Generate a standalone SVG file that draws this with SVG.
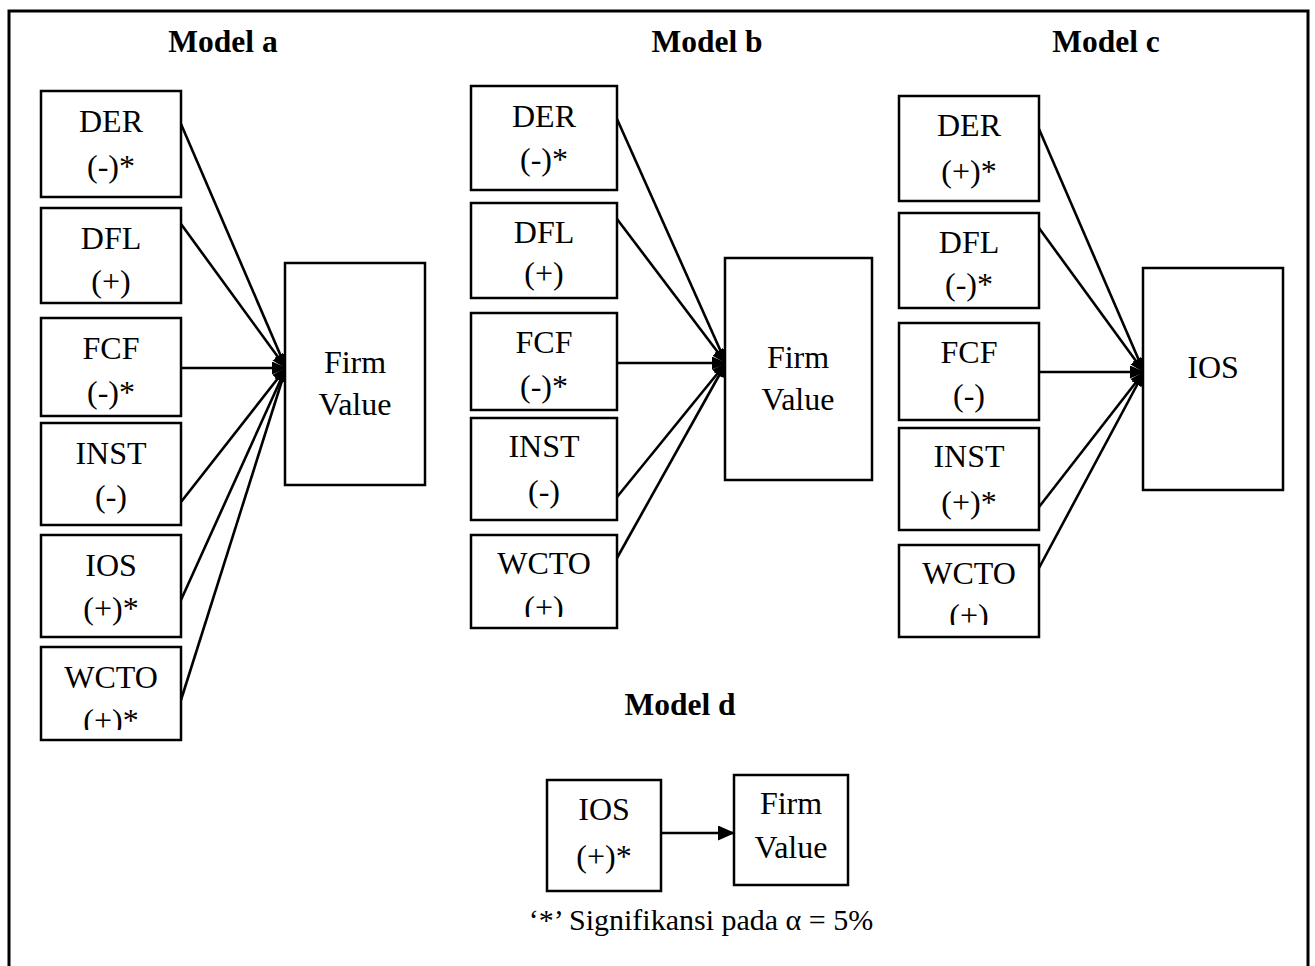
<svg xmlns="http://www.w3.org/2000/svg" width="1315" height="966" viewBox="0 0 1315 966">
  <style>
    .box { fill: #fff; stroke: #000; stroke-width: 2.5; }
    .t { font-family: "Liberation Serif", "Times New Roman", serif; font-size: 32px; text-anchor: middle; fill: #000; }
    .note { font-family: "Liberation Serif", "Times New Roman", serif; font-size: 30px; text-anchor: middle; fill: #000; }
    .h { font-family: "Liberation Serif", "Times New Roman", serif; font-size: 31.5px; font-weight: bold; text-anchor: middle; fill: #000; }
    .edge { stroke: #000; stroke-width: 2.6; fill: none; marker-end: url(#arr); }
    .edge-d { stroke: #000; stroke-width: 2.6; fill: none; marker-end: url(#arrBig); }
    .frame { stroke: #000; stroke-width: 3; fill: none; }
  </style>
  <defs>
    <marker id="arr" markerUnits="userSpaceOnUse" markerWidth="15" markerHeight="13" refX="14" refY="6.5" orient="auto">
      <path d="M0,0 L15,6.5 L0,13 Z" fill="#000"/>
    </marker>
    <marker id="arrBig" markerUnits="userSpaceOnUse" markerWidth="17" markerHeight="15" refX="16" refY="7.5" orient="auto">
      <path d="M0,0 L17,7.5 L0,15 Z" fill="#000"/>
    </marker>
    <clipPath id="clipA"><rect x="41" y="647" width="140" height="83"/></clipPath>
    <clipPath id="clipB"><rect x="471" y="535" width="146" height="82"/></clipPath>
    <clipPath id="clipC"><rect x="899" y="545" width="140" height="80"/></clipPath>
  </defs>

  <!-- outer frame, open at the bottom -->
  <path class="frame" d="M9,966 L9,11 L1308,11 L1308,966"/>

  <!-- titles -->
  <text class="h" x="223" y="52">Model a</text>
  <text class="h" x="707" y="52">Model b</text>
  <text class="h" x="1106" y="52">Model c</text>
  <text class="h" x="680" y="715">Model d</text>

  <!-- connectors -->
  <g id="connectors">
    <!-- model a -->
    <line class="edge" x1="181" y1="124" x2="286" y2="368"/>
    <line class="edge" x1="181" y1="224" x2="286" y2="368"/>
    <line class="edge" x1="181" y1="368" x2="286" y2="368"/>
    <line class="edge" x1="181" y1="502" x2="286" y2="368"/>
    <line class="edge" x1="181" y1="600" x2="286" y2="368"/>
    <line class="edge" x1="181" y1="700" x2="286" y2="368"/>
    <!-- model b -->
    <line class="edge" x1="617" y1="119" x2="726" y2="363"/>
    <line class="edge" x1="617" y1="219" x2="726" y2="363"/>
    <line class="edge" x1="617" y1="363" x2="726" y2="363"/>
    <line class="edge" x1="617" y1="497" x2="726" y2="363"/>
    <line class="edge" x1="617" y1="558" x2="726" y2="363"/>
    <!-- model c -->
    <line class="edge" x1="1039" y1="129" x2="1144" y2="372"/>
    <line class="edge" x1="1039" y1="228" x2="1144" y2="372"/>
    <line class="edge" x1="1039" y1="372" x2="1144" y2="372"/>
    <line class="edge" x1="1039" y1="507" x2="1144" y2="372"/>
    <line class="edge" x1="1039" y1="568" x2="1144" y2="372"/>
    <!-- model d -->
    <line class="edge-d" x1="661" y1="833" x2="734" y2="833"/>
  </g>

  <!-- model a nodes -->
  <g id="a-der"><rect class="box" x="41" y="91" width="140" height="106"/>
    <text class="t" x="111" y="132">DER</text><text class="t" x="111" y="177">(-)*</text></g>
  <g id="a-dfl"><rect class="box" x="41" y="208" width="140" height="95"/>
    <text class="t" x="111" y="249">DFL</text><text class="t" x="111" y="292">(+)</text></g>
  <g id="a-fcf"><rect class="box" x="41" y="318" width="140" height="98"/>
    <text class="t" x="111" y="359">FCF</text><text class="t" x="111" y="403">(-)*</text></g>
  <g id="a-inst"><rect class="box" x="41" y="423" width="140" height="102"/>
    <text class="t" x="111" y="464">INST</text><text class="t" x="111" y="507">(-)</text></g>
  <g id="a-ios"><rect class="box" x="41" y="535" width="140" height="102"/>
    <text class="t" x="111" y="576">IOS</text><text class="t" x="111" y="619">(+)*</text></g>
  <g id="a-wcto"><rect class="box" x="41" y="647" width="140" height="93"/>
    <text class="t" x="111" y="688">WCTO</text>
    <text class="t" x="111" y="731" clip-path="url(#clipA)">(+)*</text></g>
  <g id="a-firm"><rect class="box" x="285" y="263" width="140" height="222"/>
    <text class="t" x="355" y="373">Firm</text><text class="t" x="355" y="415">Value</text></g>

  <!-- model b nodes -->
  <g id="b-der"><rect class="box" x="471" y="86" width="146" height="104"/>
    <text class="t" x="544" y="127">DER</text><text class="t" x="544" y="170">(-)*</text></g>
  <g id="b-dfl"><rect class="box" x="471" y="203" width="146" height="95"/>
    <text class="t" x="544" y="243">DFL</text><text class="t" x="544" y="284">(+)</text></g>
  <g id="b-fcf"><rect class="box" x="471" y="313" width="146" height="97"/>
    <text class="t" x="544" y="353">FCF</text><text class="t" x="544" y="397">(-)*</text></g>
  <g id="b-inst"><rect class="box" x="471" y="418" width="146" height="102"/>
    <text class="t" x="544" y="457">INST</text><text class="t" x="544" y="502">(-)</text></g>
  <g id="b-wcto"><rect class="box" x="471" y="535" width="146" height="93"/>
    <text class="t" x="544" y="574">WCTO</text>
    <text class="t" x="544" y="618" clip-path="url(#clipB)">(+)</text></g>
  <g id="b-firm"><rect class="box" x="725" y="258" width="147" height="222"/>
    <text class="t" x="798" y="368">Firm</text><text class="t" x="798" y="410">Value</text></g>

  <!-- model c nodes -->
  <g id="c-der"><rect class="box" x="899" y="96" width="140" height="105"/>
    <text class="t" x="969" y="136">DER</text><text class="t" x="969" y="182">(+)*</text></g>
  <g id="c-dfl"><rect class="box" x="899" y="213" width="140" height="95"/>
    <text class="t" x="969" y="253">DFL</text><text class="t" x="969" y="295">(-)*</text></g>
  <g id="c-fcf"><rect class="box" x="899" y="323" width="140" height="97"/>
    <text class="t" x="969" y="363">FCF</text><text class="t" x="969" y="406">(-)</text></g>
  <g id="c-inst"><rect class="box" x="899" y="428" width="140" height="102"/>
    <text class="t" x="969" y="467">INST</text><text class="t" x="969" y="513">(+)*</text></g>
  <g id="c-wcto"><rect class="box" x="899" y="545" width="140" height="92"/>
    <text class="t" x="969" y="584">WCTO</text>
    <text class="t" x="969" y="626" clip-path="url(#clipC)">(+)</text></g>
  <g id="c-ios"><rect class="box" x="1143" y="268" width="140" height="222"/>
    <text class="t" x="1213" y="378">IOS</text></g>

  <!-- model d nodes -->
  <g id="d-ios"><rect class="box" x="547" y="780" width="114" height="111"/>
    <text class="t" x="604" y="820">IOS</text><text class="t" x="604" y="867">(+)*</text></g>
  <g id="d-firm"><rect class="box" x="734" y="775" width="114" height="110"/>
    <text class="t" x="791" y="814">Firm</text><text class="t" x="791" y="858">Value</text></g>

  <!-- footnote -->
  <text class="note" x="701" y="930">‘*’ Signifikansi pada α = 5%</text>
</svg>
